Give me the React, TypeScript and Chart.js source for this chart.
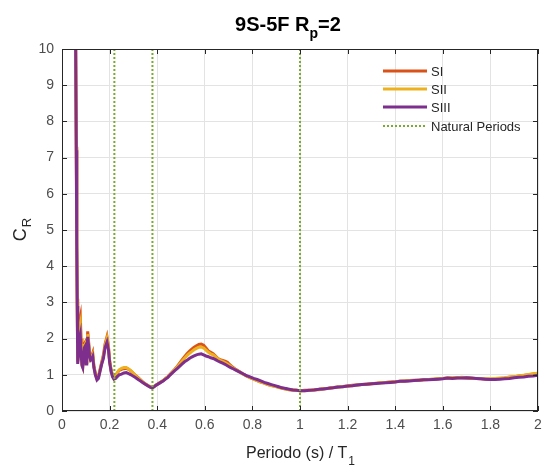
import React, { useEffect, useRef } from 'react';
import { Chart, registerables } from 'chart.js';

Chart.register(...registerables);

const FONT = "'Liberation Sans', Arial, Helvetica, sans-serif";

// Period / T1 sample points
const periods = [
  0.050, 0.0575, 0.060, 0.062, 0.064, 0.066, 0.070, 0.074, 0.077, 0.080,
  0.084, 0.087, 0.090, 0.094, 0.098, 0.101, 0.104, 0.108, 0.112, 0.116,
  0.120, 0.124, 0.129, 0.134, 0.140, 0.147, 0.153, 0.160, 0.167, 0.174,
  0.181, 0.189, 0.195, 0.200, 0.206, 0.212, 0.218, 0.225, 0.232, 0.240,
  0.250, 0.260, 0.270, 0.280, 0.290, 0.300, 0.310, 0.320, 0.330, 0.340,
  0.350, 0.360, 0.370, 0.378, 0.385, 0.395, 0.405, 0.415, 0.425, 0.435,
  0.445, 0.455, 0.465, 0.475, 0.485, 0.495, 0.505, 0.515, 0.525, 0.535,
  0.545, 0.555, 0.565, 0.575, 0.585, 0.595, 0.605, 0.615, 0.625, 0.635,
  0.645, 0.655, 0.665, 0.675, 0.685, 0.695, 0.705, 0.715, 0.730, 0.745,
  0.760, 0.775, 0.790, 0.805, 0.820, 0.835, 0.850, 0.865, 0.880, 0.895,
  0.910, 0.925, 0.940, 0.955, 0.970, 0.985, 1.000, 1.020, 1.040, 1.060,
  1.080, 1.100, 1.120, 1.140, 1.160, 1.180, 1.200, 1.220, 1.240, 1.260,
  1.280, 1.300, 1.320, 1.340, 1.360, 1.380, 1.400, 1.420, 1.440, 1.460,
  1.480, 1.500, 1.520, 1.540, 1.560, 1.580, 1.600, 1.620, 1.640, 1.660,
  1.680, 1.700, 1.720, 1.740, 1.760, 1.780, 1.800, 1.820, 1.840, 1.860,
  1.880, 1.900, 1.920, 1.940, 1.960, 1.980, 2.000,
];

const sI = [
  14, 10, 7.3, 4.8, 3.1, 1.4, 2.0, 2.5, 2.6, 2.0,
  1.3, 1.25, 1.6, 1.85, 1.9, 1.35, 1.6, 2.2, 1.9, 1.55,
  1.45, 1.5, 1.6, 1.25, 1.05, 0.9, 0.95, 1.15, 1.35, 1.55,
  1.85, 2.05, 1.8, 1.4, 1.15, 1.0, 0.92, 0.97, 1.05, 1.12,
  1.15, 1.17, 1.18, 1.15, 1.1, 1.04, 0.98, 0.92, 0.86, 0.8,
  0.75, 0.71, 0.67, 0.65, 0.67, 0.72, 0.76, 0.8, 0.84, 0.9,
  0.95, 1.02, 1.09, 1.16, 1.24, 1.33, 1.42, 1.5, 1.58, 1.65,
  1.71, 1.76, 1.8, 1.84, 1.85, 1.82, 1.74, 1.66, 1.62, 1.58,
  1.52, 1.45, 1.42, 1.4, 1.38, 1.35, 1.28, 1.22, 1.15, 1.09,
  1.03, 0.97, 0.92, 0.88, 0.84, 0.8, 0.77, 0.73, 0.7, 0.68,
  0.66, 0.63, 0.61, 0.59, 0.58, 0.57, 0.56, 0.57, 0.57, 0.59,
  0.6, 0.62, 0.63, 0.65, 0.66, 0.68, 0.69, 0.71, 0.72, 0.73,
  0.74, 0.75, 0.77, 0.78, 0.79, 0.8, 0.81, 0.82, 0.83, 0.84,
  0.85, 0.85, 0.86, 0.87, 0.88, 0.89, 0.9, 0.91, 0.91, 0.92,
  0.92, 0.91, 0.9, 0.9, 0.89, 0.88, 0.88, 0.89, 0.9, 0.91,
  0.93, 0.95, 0.97, 0.98, 1.0, 1.02, 1.04,
];

const sII = [
  14, 10, 7.25, 4.7, 3.0, 1.35, 1.85, 2.3, 2.4, 1.85,
  1.28, 1.22, 1.55, 1.8, 1.85, 1.33, 1.55, 2.12, 1.85, 1.52,
  1.42, 1.46, 1.55, 1.22, 1.02, 0.88, 0.93, 1.12, 1.32, 1.5,
  1.8, 2.0, 1.76, 1.38, 1.12, 0.98, 0.9, 0.96, 1.06, 1.14,
  1.18, 1.2, 1.2, 1.16, 1.11, 1.04, 0.97, 0.91, 0.85, 0.79,
  0.74, 0.7, 0.67, 0.65, 0.67, 0.71, 0.75, 0.8, 0.84, 0.89,
  0.94, 1.01, 1.08, 1.15, 1.22, 1.3, 1.38, 1.46, 1.53, 1.59,
  1.64, 1.69, 1.73, 1.76, 1.77, 1.74, 1.68, 1.62, 1.58, 1.55,
  1.5, 1.44, 1.4, 1.37, 1.34, 1.3, 1.25, 1.2, 1.14, 1.08,
  1.02, 0.97, 0.92, 0.88, 0.84, 0.8, 0.77, 0.73, 0.7, 0.68,
  0.65, 0.63, 0.61, 0.59, 0.58, 0.57, 0.56, 0.56, 0.57, 0.58,
  0.59, 0.61, 0.63, 0.64, 0.66, 0.67, 0.69, 0.7, 0.72, 0.73,
  0.74, 0.75, 0.76, 0.78, 0.79, 0.8, 0.81, 0.82, 0.83, 0.84,
  0.84, 0.85, 0.86, 0.87, 0.88, 0.89, 0.9, 0.91, 0.92, 0.92,
  0.93, 0.92, 0.91, 0.9, 0.9, 0.89, 0.89, 0.9, 0.91, 0.92,
  0.94, 0.95, 0.97, 0.99, 1.01, 1.03, 1.04,
];

const sIII = [
  14, 10, 7.2, 4.6, 2.9, 1.3, 1.6, 2.0, 2.1, 1.6,
  1.25, 1.2, 1.5, 1.75, 1.8, 1.3, 1.5, 2.05, 1.8, 1.5,
  1.4, 1.42, 1.5, 1.2, 1.0, 0.86, 0.9, 1.1, 1.3, 1.45,
  1.75, 1.9, 1.7, 1.35, 1.1, 0.95, 0.88, 0.9, 0.95, 1.0,
  1.02, 1.05, 1.06, 1.03, 1.0, 0.96, 0.92, 0.87, 0.83, 0.78,
  0.74, 0.7, 0.66, 0.64, 0.66, 0.71, 0.75, 0.79, 0.83, 0.88,
  0.93, 1.0, 1.06, 1.12, 1.18, 1.24, 1.3, 1.36, 1.4, 1.45,
  1.49, 1.52, 1.55, 1.57, 1.58, 1.55, 1.52, 1.5, 1.47, 1.45,
  1.42, 1.38, 1.35, 1.32, 1.29, 1.25, 1.21, 1.18, 1.13, 1.08,
  1.03, 0.98, 0.94, 0.9, 0.87, 0.83, 0.79, 0.76, 0.73, 0.7,
  0.67, 0.64, 0.62, 0.6, 0.58, 0.57, 0.56, 0.56, 0.57, 0.58,
  0.6, 0.61, 0.63, 0.64, 0.66, 0.67, 0.69, 0.7, 0.72, 0.73,
  0.74, 0.75, 0.76, 0.77, 0.78, 0.79, 0.8, 0.82, 0.82, 0.83,
  0.84, 0.85, 0.86, 0.86, 0.87, 0.88, 0.89, 0.91, 0.9, 0.91,
  0.91, 0.92, 0.91, 0.9, 0.89, 0.88, 0.87, 0.87, 0.88, 0.89,
  0.9, 0.92, 0.93, 0.94, 0.96, 0.97, 0.99,
];

const naturalPeriods = [0.22, 0.38, 1.0];

const seriesNames = ['SI', 'SII', 'SIII'];
const seriesColors = ['#D95319', '#EDB120', '#7E2F8E'];
const naturalName = 'Natural Periods';
const naturalColor = '#77AC30';

const xMin = 0, xMax = 2, xStep = 0.2;
const yMin = 0, yMax = 10, yStep = 1;
const xTickLabels = ['0', '0.2', '0.4', '0.6', '0.8', '1', '1.2', '1.4', '1.6', '1.8', '2'];
const yTickLabels = ['0', '1', '2', '3', '4', '5', '6', '7', '8', '9', '10'];

const titleMain = '9S-5F R';
const titleSub = 'p';
const titleEnd = '=2';
const xLabelMain = 'Periodo (s) / T';
const xLabelSub = '1';
const yLabelMain = 'C';
const yLabelSub = 'R';

const toPts = (ys: number[]) => periods.map((p, i) => ({ x: p, y: ys[i] }));

const decorPlugin = {
  id: 'decor',
  afterDraw(chart: any) {
    const { ctx, chartArea: a, scales } = chart;
    const xs = scales.x, ys = scales.y;
    ctx.save();
    // box
    ctx.strokeStyle = '#262626';
    ctx.lineWidth = 1;
    ctx.strokeRect(Math.round(a.left) + 0.5, Math.round(a.top) + 0.5, Math.round(a.right - a.left) - 1, Math.round(a.bottom - a.top) - 1);
    // inward ticks
    ctx.beginPath();
    xs.ticks.forEach((_t: any, i: number) => {
      const px = Math.round(xs.getPixelForTick(i)) + 0.5;
      ctx.moveTo(px, a.bottom); ctx.lineTo(px, a.bottom - 5);
      ctx.moveTo(px, a.top); ctx.lineTo(px, a.top + 5);
    });
    ys.ticks.forEach((_t: any, i: number) => {
      const py = Math.round(ys.getPixelForTick(i)) + 0.5;
      ctx.moveTo(a.left, py); ctx.lineTo(a.left + 5, py);
      ctx.moveTo(a.right, py); ctx.lineTo(a.right - 5, py);
    });
    ctx.stroke();

    // title
    ctx.fillStyle = '#000';
    ctx.textBaseline = 'alphabetic';
    ctx.textAlign = 'left';
    ctx.font = `bold 20px ${FONT}`;
    const w1 = ctx.measureText(titleMain).width;
    const w3 = ctx.measureText(titleEnd).width;
    ctx.font = `bold 14px ${FONT}`;
    const w2 = ctx.measureText(titleSub).width;
    const total = w1 + w2 + w3;
    const cx = (a.left + a.right) / 2 - 12;
    const tx = cx - total / 2;
    ctx.font = `bold 20px ${FONT}`;
    ctx.fillText(titleMain, tx, 31);
    ctx.font = `bold 14px ${FONT}`;
    ctx.fillText(titleSub, tx + w1, 38);
    ctx.font = `bold 20px ${FONT}`;
    ctx.fillText(titleEnd, tx + w1 + w2, 31);

    // x label
    ctx.fillStyle = '#262626';
    ctx.font = `16px ${FONT}`;
    const xw1 = ctx.measureText(xLabelMain).width;
    ctx.font = `12px ${FONT}`;
    const xw2 = ctx.measureText(xLabelSub).width;
    const xx = (a.left + a.right) / 2 - (xw1 + xw2) / 2;
    ctx.font = `16px ${FONT}`;
    ctx.fillText(xLabelMain, xx, 458);
    ctx.font = `12px ${FONT}`;
    ctx.fillText(xLabelSub, xx + xw1 + 1, 465);

    // y label
    ctx.save();
    ctx.font = `18px ${FONT}`;
    const yw1 = ctx.measureText(yLabelMain).width;
    ctx.font = `13px ${FONT}`;
    const yw2 = ctx.measureText(yLabelSub).width;
    const cy = (a.top + a.bottom) / 2;
    ctx.translate(26, cy + (yw1 + yw2) / 2);
    ctx.rotate(-Math.PI / 2);
    ctx.font = `18px ${FONT}`;
    ctx.fillText(yLabelMain, 0, 0);
    ctx.font = `13px ${FONT}`;
    ctx.fillText(yLabelSub, yw1 + 1, 5);
    ctx.restore();

    // legend
    const lx0 = a.right - 155, lx1 = a.right - 111, ltx = a.right - 107;
    const rows = [a.top + 22, a.top + 40, a.top + 58, a.top + 77];
    ctx.font = `13px ${FONT}`;
    ctx.textBaseline = 'middle';
    seriesNames.forEach((n, i) => {
      ctx.strokeStyle = seriesColors[i];
      ctx.lineWidth = 3;
      ctx.setLineDash([]);
      ctx.beginPath();
      ctx.moveTo(lx0, rows[i]); ctx.lineTo(lx1, rows[i]);
      ctx.stroke();
      ctx.fillStyle = '#262626';
      ctx.fillText(n, ltx, rows[i] + 1);
    });
    ctx.strokeStyle = naturalColor;
    ctx.lineWidth = 2;
    ctx.setLineDash([2, 2]);
    ctx.beginPath();
    ctx.moveTo(lx0, rows[3]); ctx.lineTo(lx1, rows[3]);
    ctx.stroke();
    ctx.setLineDash([]);
    ctx.fillStyle = '#262626';
    ctx.fillText(naturalName, ltx, rows[3] + 1);
    ctx.restore();
  },
};

export default function App() {
  const ref = useRef<HTMLCanvasElement>(null);
  useEffect(() => {
    document.body.style.margin = '0';
    const natData: any[] = [];
    naturalPeriods.forEach((p) => {
      natData.push({ x: p, y: yMin }, { x: p, y: yMax }, { x: p, y: null });
    });
    const seriesData = [sI, sII, sIII];
    const datasets: any[] = seriesNames.map((n, i) => ({
      label: n,
      data: toPts(seriesData[i]),
      borderColor: seriesColors[i],
      backgroundColor: seriesColors[i],
      borderWidth: 3,
      pointRadius: 0,
      tension: 0,
      order: 3 - i,
    }));
    datasets.push({
      label: naturalName,
      data: natData,
      borderColor: naturalColor,
      borderWidth: 2,
      borderDash: [2, 2],
      pointRadius: 0,
      spanGaps: false,
      order: 0,
    });
    const chart = new Chart(ref.current as HTMLCanvasElement, {
      type: 'line',
      data: { datasets },
      options: {
        animation: false,
        responsive: false,
        maintainAspectRatio: false,
        layout: { padding: { top: 49, right: 6, left: 0, bottom: 0 } },
        plugins: {
          legend: { display: false },
          title: { display: false },
          tooltip: { enabled: false },
        },
        scales: {
          x: {
            type: 'linear',
            min: xMin,
            max: xMax,
            ticks: {
              stepSize: xStep, color: '#4d4d4d', font: { family: FONT, size: 14 }, padding: 6, maxRotation: 0,
              callback: (_v: any, i: number) => xTickLabels[i],
            },
            grid: { color: '#e3e3e3', drawTicks: false },
            border: { display: false },
            afterFit: (s: any) => { s.height = 57; s.paddingLeft = 0; s.paddingRight = 0; },
          },
          y: {
            type: 'linear',
            min: yMin,
            max: yMax,
            ticks: {
              stepSize: yStep, color: '#4d4d4d', font: { family: FONT, size: 14 }, padding: 8,
              callback: (_v: any, i: number) => yTickLabels[i],
            },
            grid: { color: '#e3e3e3', drawTicks: false },
            border: { display: false },
            afterFit: (s: any) => { s.width = 62; s.paddingTop = 0; s.paddingBottom = 0; },
          },
        },
      } as any,
      plugins: [decorPlugin],
    });
    return () => chart.destroy();
  }, []);
  return (
    <div style={{ width: 544, height: 468 }}>
      <canvas ref={ref} width={544} height={468} style={{ display: 'block', width: 544, height: 468 }} />
    </div>
  );
}
